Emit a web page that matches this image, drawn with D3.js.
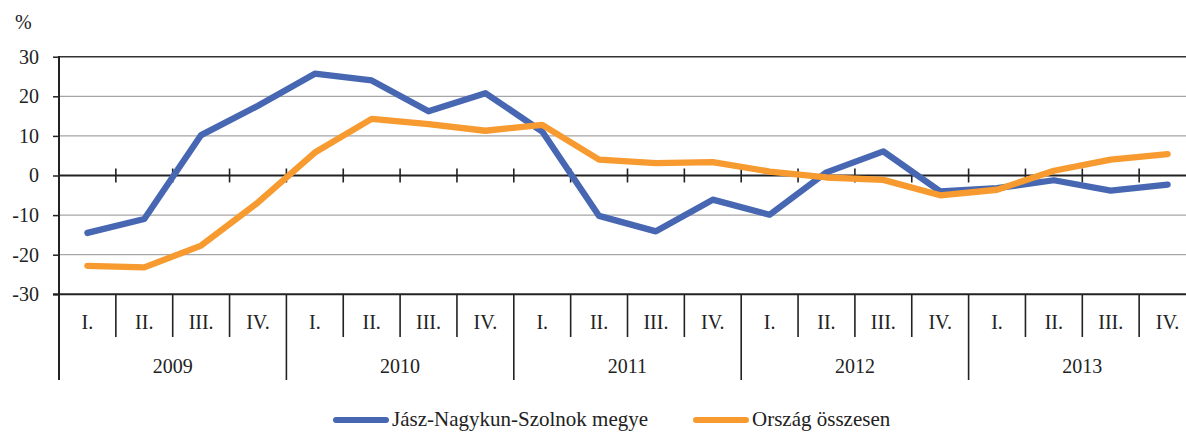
<!DOCTYPE html>
<html><head><meta charset="utf-8">
<script src="https://cdn.jsdelivr.net/npm/d3@7/dist/d3.min.js"></script>
<style>body{margin:0;background:#fff}svg{display:block}text{font-family:"Liberation Serif","DejaVu Serif",serif;fill:#222}</style>
</head><body><svg id="c" width="1186" height="432"></svg>
<script>
const years = ["2009","2010","2011","2012","2013"];
const quarters = ["I.","II.","III.","IV."];
const seriesNames = ["Jász-Nagykun-Szolnok megye","Ország összesen"];
const county = [-14.5,-11.0,10.2,17.6,25.7,24.0,16.2,20.8,11.1,-10.2,-14.1,-6.1,-9.9,0.8,6.1,-4.0,-3.2,-1.2,-3.8,-2.3];
const country = [-22.8,-23.2,-17.7,-6.8,5.8,14.3,13.0,11.3,12.8,4.0,3.1,3.4,1.0,-0.5,-1.1,-5.0,-3.6,1.2,4.0,5.4];
const yTicks = [30,20,10,0,-10,-20,-30];

const svg = d3.select("#c");
const left = 59, qw = 56.85;
const cats = [];
years.forEach(y => quarters.forEach(q => cats.push(y + "-" + q)));
const x = d3.scaleBand().domain(cats).range([left, left + qw * cats.length]);
const y = d3.scaleLinear().domain([-30, 30]).range([294.3, 56.7]);
const colors = ["#4767b2", "#f79a2f"];
const right = left + qw * cats.length;

// gridlines
svg.append("g").selectAll("line").data(yTicks.filter(v => v !== 0 && v !== -30)).join("line")
  .attr("x1", left).attr("x2", right).attr("y1", d => y(d)).attr("y2", d => y(d))
  .attr("stroke", d => d === 30 ? "#333" : "#a6a6a6").attr("stroke-width", d => d === 30 ? 1.5 : 1.3);

// y axis
const yAxis = d3.axisLeft(y).tickValues(yTicks).tickSize(6).tickPadding(14).tickFormat(d => String(d));
const ya = svg.append("g").attr("transform", `translate(${left},0)`).call(yAxis);
ya.select(".domain").remove();
ya.selectAll(".tick line").attr("stroke", "#222").attr("stroke-width", 1.5);
ya.selectAll(".tick text").style("font-size", "20px").attr("fill", "#222");
svg.append("line").attr("x1", left).attr("x2", left).attr("y1", y(30) - 0.7).attr("y2", 380)
  .attr("stroke", "#222").attr("stroke-width", 2);

// zero axis with ticks
svg.append("line").attr("x1", left).attr("x2", right).attr("y1", y(0)).attr("y2", y(0))
  .attr("stroke", "#222").attr("stroke-width", 2);
svg.append("g").selectAll("line").data(cats.slice(1)).join("line")
  .attr("x1", d => x(d)).attr("x2", d => x(d)).attr("y1", y(0) - 7).attr("y2", y(0) + 7)
  .attr("stroke", "#222").attr("stroke-width", 1.6);

// bottom category axis
svg.append("line").attr("x1", left - 6).attr("x2", right).attr("y1", y(-30)).attr("y2", y(-30))
  .attr("stroke", "#222").attr("stroke-width", 2);
svg.append("g").selectAll("line").data(cats.slice(1)).join("line")
  .attr("x1", d => x(d)).attr("x2", d => x(d)).attr("y1", y(-30))
  .attr("y2", d => d.endsWith("-I.") ? 380 : 337)
  .attr("stroke", "#222").attr("stroke-width", 1.6);
svg.append("g").selectAll("text").data(cats).join("text")
  .attr("x", d => x(d) + x.bandwidth() / 2).attr("y", 329).attr("text-anchor", "middle")
  .style("font-size", "20px").text(d => d.split("-")[1]);
svg.append("g").selectAll("text").data(years).join("text")
  .attr("x", d => x(d + "-I.") + x.bandwidth() * 2).attr("y", 373).attr("text-anchor", "middle")
  .style("font-size", "20px").text(d => d);

// % label
svg.append("text").attr("x", 15).attr("y", 29).style("font-size", "20px").text("%");

// lines
const line = d3.line().x((d, i) => x(cats[i]) + x.bandwidth() / 2).y(d => y(d));
[county, country].forEach((s, k) => {
  svg.append("path").datum(s).attr("d", line).attr("fill", "none")
    .attr("stroke", colors[k]).attr("stroke-width", 6.3).attr("stroke-linejoin", "round").attr("stroke-linecap", "round");
});

// legend
const legX = [333, 693];
seriesNames.forEach((n, k) => {
  svg.append("line").attr("x1", legX[k] + 3).attr("x2", legX[k] + 53).attr("y1", 420).attr("y2", 420)
    .attr("stroke", colors[k]).attr("stroke-width", 6).attr("stroke-linecap", "round");
  svg.append("text").attr("x", legX[k] + 59).attr("y", 426).style("font-size", "21px").text(n);
});
</script></body></html>
